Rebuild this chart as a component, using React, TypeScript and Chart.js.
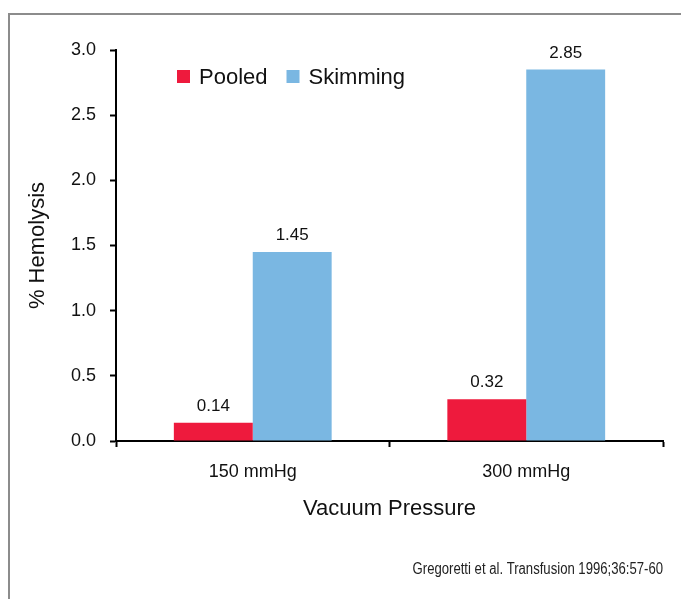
import React, { useEffect, useRef } from "react";
import { Chart, registerables } from "chart.js";

Chart.register(...registerables);

const categories = ["150 mmHg", "300 mmHg"];
const pooled = [0.14, 0.32];
const skimming = [1.45, 2.85];
const seriesNames = ["Pooled", "Skimming"];
const seriesColors = ["#EE1A3D", "#7AB7E2"];
const yTitle = "% Hemolysis";
const xTitle = "Vacuum Pressure";
const citation = "Gregoretti et al. Transfusion 1996;36:57-60";
const yMin = 0;
const yMax = 3;
const yStep = 0.5;

const FONT = "'Liberation Sans', Arial, Helvetica, sans-serif";
const INK = "#111111";

const valueLabels = {
  id: "valueLabels",
  afterDatasetsDraw(chart: any) {
    const ctx = chart.ctx;
    ctx.save();
    ctx.font = `17px ${FONT}`;
    ctx.fillStyle = INK;
    ctx.textAlign = "center";
    ctx.textBaseline = "alphabetic";
    chart.data.datasets.forEach((ds: any, di: number) => {
      const meta = chart.getDatasetMeta(di);
      meta.data.forEach((bar: any, i: number) => {
        ctx.fillText(Number(ds.data[i]).toFixed(2), bar.x, bar.y - 12);
      });
    });
    ctx.restore();
  },
};

const customLegend = {
  id: "customLegend",
  afterDraw(chart: any) {
    const ctx = chart.ctx;
    ctx.save();
    ctx.font = `22px ${FONT}`;
    ctx.textBaseline = "middle";
    ctx.textAlign = "left";
    let x = 177;
    const y = 77;
    chart.data.datasets.forEach((ds: any) => {
      ctx.fillStyle = ds.backgroundColor;
      ctx.fillRect(x, y - 7, 13, 13);
      ctx.fillStyle = INK;
      ctx.fillText(ds.label, x + 22, y + 1);
      x += 22 + ctx.measureText(ds.label).width + 19;
    });
    ctx.restore();
    // citation (condensed look)
    ctx.save();
    ctx.font = `16px ${FONT}`;
    ctx.textAlign = "right";
    ctx.textBaseline = "alphabetic";
    ctx.fillStyle = "#222";
    ctx.translate(663, 574);
    ctx.scale(0.82, 1);
    ctx.fillText(citation, 0, 0);
    ctx.restore();
  },
};

export default function App() {
  const ref = useRef<HTMLCanvasElement | null>(null);

  useEffect(() => {
    if (!ref.current) return;
    const chart = new Chart(ref.current, {
      type: "bar",
      data: {
        labels: categories,
        datasets: [
          { label: seriesNames[0], data: pooled, backgroundColor: seriesColors[0] },
          { label: seriesNames[1], data: skimming, backgroundColor: seriesColors[1] },
        ],
      },
      options: {
        animation: false,
        responsive: false,
        maintainAspectRatio: false,
        devicePixelRatio: 1,
        layout: { padding: { left: 0, right: 18, top: 50, bottom: 48 } },
        datasets: {
          bar: { categoryPercentage: 0.577, barPercentage: 1.0, borderWidth: 0 },
        },
        plugins: {
          legend: { display: false },
          tooltip: { enabled: false },
          title: { display: false },
        },
        scales: {
          x: {
            afterFit(scale: any) {
              scale.height = 110;
            },
            grid: {
              display: true,
              drawOnChartArea: false,
              drawTicks: true,
              tickLength: 6,
              tickColor: "#000",
              tickWidth: 2,
              offset: true,
            },
            border: { display: true, color: "#000", width: 2 },
            ticks: {
              color: INK,
              font: { family: FONT, size: 18 },
              padding: 14,
            },
            title: {
              display: true,
              text: xTitle,
              color: INK,
              font: { family: FONT, size: 22 },
              padding: { top: 0, bottom: 29 },
            },
          },
          y: {
            min: yMin,
            max: yMax,
            afterFit(scale: any) {
              scale.width = 116;
            },
            ticks: {
              stepSize: yStep,
              color: INK,
              font: { family: FONT, size: 18 },
              padding: 14,
              callback: (v: any) => Number(v).toFixed(1),
            },
            grid: {
              display: true,
              drawOnChartArea: false,
              drawTicks: true,
              tickLength: 6,
              tickColor: "#000",
              tickWidth: 2,
            },
            border: { display: true, color: "#000", width: 2 },
            title: {
              display: true,
              text: yTitle,
              color: INK,
              font: { family: FONT, size: 22 },
              padding: { top: 25, bottom: 0 },
            },
          },
        },
      },
      plugins: [valueLabels, customLegend],
    });
    return () => chart.destroy();
  }, []);

  return (
    <div style={{ position: "absolute", left: 0, top: 0, width: 681, height: 599, overflow: "hidden", background: "#fff" }}>
      <div
        style={{
          position: "absolute",
          left: 8,
          top: 13,
          width: 700,
          height: 620,
          borderTop: "2px solid #8c8c8c",
          borderLeft: "2px solid #8c8c8c",
        }}
      />
      <canvas ref={ref} width={681} height={599} style={{ position: "absolute", left: 0, top: 0, width: 681, height: 599 }} />
    </div>
  );
}
